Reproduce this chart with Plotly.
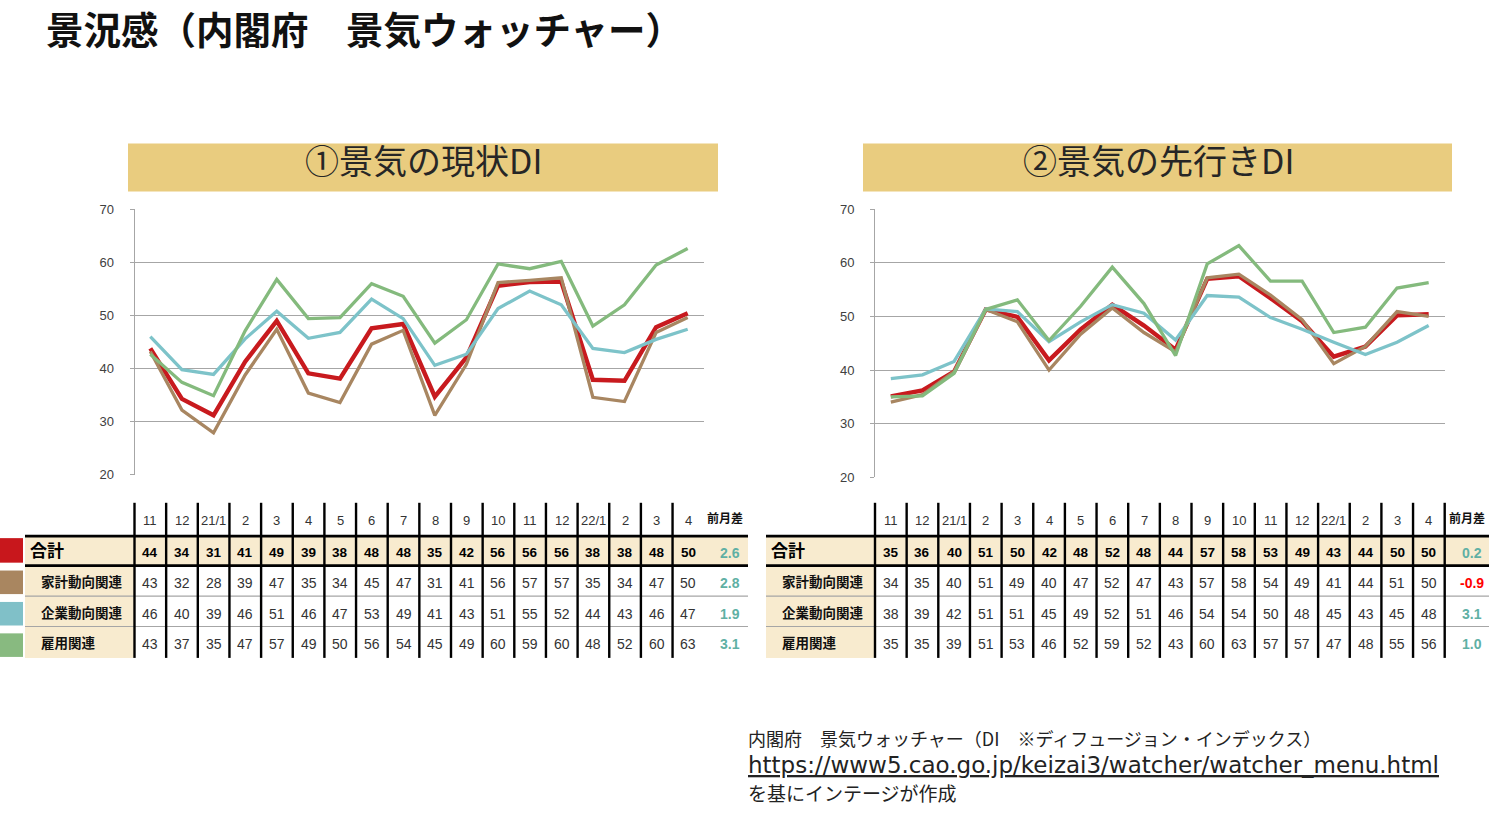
import math
import plotly.graph_objects as go

W, H = 1489, 822

months = ["11", "12", "21/1", "2", "3", "4", "5", "6", "7", "8", "9", "10",
          "11", "12", "22/1", "2", "3", "4"]
series_names = ["合計", "家計動向関連", "企業動向関連", "雇用関連"]

# ① 現状DI
cur_total = [43.8, 34.3, 31.2, 41.3, 49.0, 39.1, 38.1, 47.6, 48.4, 34.7, 42.1, 55.6,
             56.3, 56.4, 37.9, 37.7, 47.8, 50.4]
cur_household = [43.2, 32.2, 27.9, 38.8, 47.4, 35.4, 33.6, 44.6, 47.2, 31.2, 40.8, 56.2,
                 56.6, 57.1, 34.6, 33.8, 46.8, 49.6]
cur_corporate = [46.0, 39.8, 38.9, 45.6, 50.8, 45.7, 46.8, 53.1, 49.4, 40.6, 42.7, 51.3,
                 54.6, 52.0, 43.8, 43.0, 45.5, 47.4]
cur_employment = [42.7, 37.4, 34.9, 47.1, 56.8, 49.4, 49.6, 56.0, 53.6, 44.8, 49.2, 59.7,
                  58.8, 60.2, 48.0, 52.0, 59.5, 62.6]

# ② 先行きDI
fut_total = [35.1, 36.2, 39.7, 51.3, 49.9, 41.8, 47.6, 52.2, 48.3, 43.8, 57.0, 57.5,
             53.4, 49.1, 42.5, 44.4, 50.2, 50.4]
fut_household = [34.0, 35.4, 39.7, 51.3, 49.0, 40.0, 46.7, 51.6, 47.0, 43.4, 57.2, 57.9,
                 54.0, 49.4, 41.2, 44.4, 50.9, 50.0]
fut_corporate = [38.4, 39.1, 41.6, 51.4, 50.9, 45.3, 49.0, 52.2, 50.6, 45.6, 53.9, 53.6,
                 49.8, 47.6, 45.2, 42.9, 45.2, 48.3]
fut_employment = [35.0, 35.2, 39.4, 51.3, 53.1, 45.5, 51.9, 59.2, 52.4, 42.7, 59.8, 63.2,
                  56.6, 56.6, 47.0, 48.0, 55.3, 56.3]

line_colors = ["#C81A1E", "#A88661", "#7DC3C9", "#84BA7D"]
swatch_colors = ["#C8171C", "#A98660", "#80C0C8", "#88BA80"]
line_widths = [4.4, 3.3, 3.3, 3.3]

JP = "Noto Sans CJK JP"
NUM = "Liberation Sans, Noto Sans CJK JP"


def X(px):
    return px / W


def Y(py):
    return 1 - py / H


def rnd(v):
    return int(math.floor(v + 0.5))


fig = go.Figure()

idx = list(range(len(months)))
panels = [
    (["x", "y"], [cur_total, cur_household, cur_corporate, cur_employment]),
    (["x2", "y2"], [fut_total, fut_household, fut_corporate, fut_employment]),
]
draw_order = [0, 1, 2, 3]
for (xa, ya), data in panels:
    for k in draw_order:
        fig.add_trace(go.Scatter(
            x=idx, y=data[k], mode="lines", name=series_names[k],
            line=dict(color=line_colors[k], width=line_widths[k]),
            xaxis=xa, yaxis=ya, hoverinfo="skip"))

grid = "#A6A6A6"
yax_common = dict(range=[20, 70], dtick=10, tick0=20, showgrid=True, gridcolor=grid,
                  gridwidth=1, showline=True, linecolor=grid, linewidth=1,
                  ticks="outside", ticklen=4, tickcolor=grid, zeroline=False,
                  tickfont=dict(family="Liberation Sans", size=13, color="#404040"),
                  ticklabelstandoff=13)
xax_common = dict(range=[-0.5, len(months) - 0.5], showgrid=False, showticklabels=False,
                  zeroline=False, showline=False, ticks="")

fig.update_layout(
    width=W, height=H, margin=dict(l=0, r=0, t=0, b=0),
    paper_bgcolor="white", plot_bgcolor="white", showlegend=False,
    xaxis=dict(domain=[X(134.5), X(703.5)], anchor="y", **xax_common),
    yaxis=dict(domain=[Y(476.5), Y(206)], anchor="x", **yax_common),
    xaxis2=dict(domain=[X(875), X(1444.5)], anchor="y2", **xax_common),
    yaxis2=dict(domain=[Y(479), Y(206)], anchor="x2", **yax_common),
)

shapes = []
annotations = []


def rect(x0, y0, x1, y1, color):
    shapes.append(dict(type="rect", xref="paper", yref="paper",
                       x0=X(x0), x1=X(x1), y0=Y(y1), y1=Y(y0),
                       fillcolor=color, line=dict(width=0), layer="below"))


def hline(x0, x1, y, color, width):
    shapes.append(dict(type="line", xref="paper", yref="paper",
                       x0=X(x0), x1=X(x1), y0=Y(y), y1=Y(y),
                       line=dict(color=color, width=width)))


def vline(x, y0, y1, color, width):
    shapes.append(dict(type="line", xref="paper", yref="paper",
                       x0=X(x), x1=X(x), y0=Y(y0), y1=Y(y1),
                       line=dict(color=color, width=width)))


def text(x, y, s, size, color="#333333", family=NUM, xanchor="center", bold=False):
    if bold:
        s = "<b>" + s + "</b>"
    annotations.append(dict(xref="paper", yref="paper", x=X(x), y=Y(y), text=s,
                            showarrow=False, xanchor=xanchor, yanchor="middle",
                            font=dict(family=family, size=size, color=color)))


# Title
text(44, 21, "景況感（内閣府　景気ウォッチャー）", 37.5, "#111111", JP, "left", True)

# Panel headers
gold = "#E9CC7F"
rect(128, 139, 718, 188, gold)
rect(863, 139, 1452, 188, gold)
text(423, 155, "①景気の現状DI", 34, "#262626", JP)
text(1158, 155, "②景気の先行きDI", 34, "#262626", JP)

# Tables
beige = "#F8EBCF"
col_w = 31.65
row_y = [556, 587, 618, 649]
teal = "#5FB0A4"


def table(lx0, sep0, x_end, data, last_sep, diff_x, label_x0):
    # backgrounds
    rect(lx0, 539, x_end, 569, beige)
    rect(lx0, 569, sep0, 663, beige)
    # horizontal lines
    hline(lx0, x_end, 539, "#000000", 2.6)
    hline(lx0, x_end, 569, "#000000", 2.6)
    hline(lx0, x_end, 600, "#A6A6A6", 1.2)
    hline(lx0, x_end, 631, "#A6A6A6", 1.2)
    # vertical separators
    nsep = len(months) + (1 if last_sep else 0)
    for k in range(nsep):
        vline(sep0 + col_w * k, 505, 663, "#000000", 2.4)
    # header
    for i, m in enumerate(months):
        cx = sep0 + col_w * (i + 0.5)
        text(cx, 523, m, 13, "#333333")
    text(diff_x, 520, "前月差", 12, "#111111", JP, bold=True)
    # rows
    for r, series in enumerate(data):
        for i, v in enumerate(series):
            cx = sep0 + col_w * (i + 0.5)
            if r == 0:
                text(cx, row_y[r], str(rnd(v)), 13.5, "#000000", bold=True)
            else:
                text(cx, row_y[r], str(rnd(v)), 14, "#333333")
        d = round(series[-1] - series[-2], 1)
        text(diff_x + 5, row_y[r], f"{d:.1f}", 14, "#FF0000" if d < 0 else teal, bold=True)
        if r == 0:
            text(label_x0 + 3, row_y[r] - 3, series_names[r], 17, "#000000", JP, "left", True)
        else:
            text(label_x0 + 14, row_y[r] - 2, series_names[r], 13.5, "#111111", JP, "left", True)


table(25, 134.5, 748, [cur_total, cur_household, cur_corporate, cur_employment],
      False, 725, 25)
table(766, 875, 1489, [fut_total, fut_household, fut_corporate, fut_employment],
      True, 1467, 766)

# swatches
sw_y = [(541, 566), (574, 598), (606, 630), (638, 662)]
for k, (y0, y1) in enumerate(sw_y):
    rect(0, y0, 23, y1, swatch_colors[k])

# Footnote
text(746, 745, "内閣府　景気ウォッチャー（DI　※ディフュージョン・インデックス）", 18, "#222222", JP, "left")
text(746, 772, "<span style='text-decoration:underline'>https://www5.cao.go.jp/keizai3/watcher/watcher_menu.html</span>",
     23, "#222222", "DejaVu Sans", "left")
text(746, 800, "を基にインテージが作成", 19, "#222222", JP, "left")

fig.update_layout(shapes=shapes, annotations=annotations)
fig.write_html("out.html")
